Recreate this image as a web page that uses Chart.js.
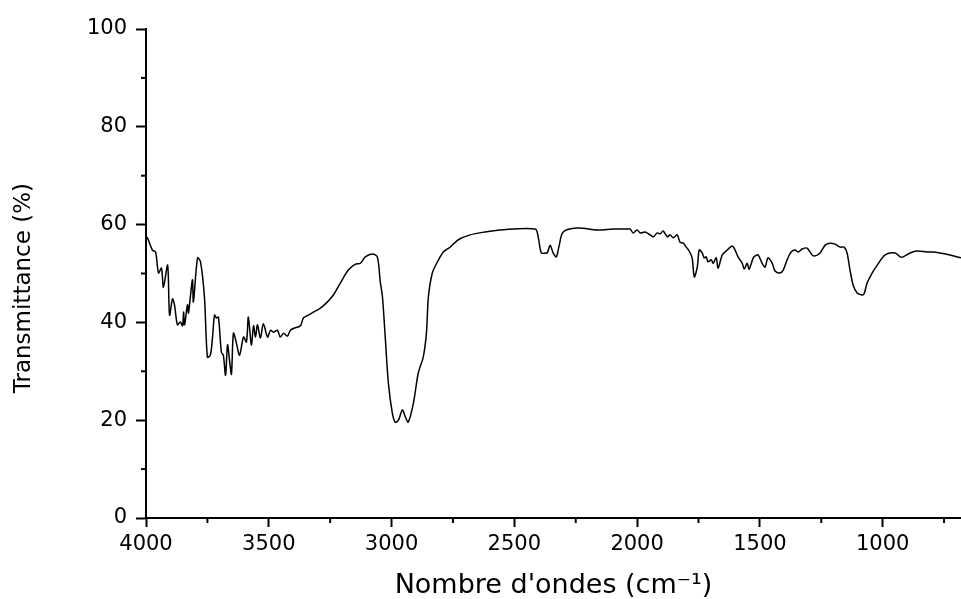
<!DOCTYPE html>
<html>
<head>
<meta charset="utf-8">
<script src="https://cdn.jsdelivr.net/npm/chart.js@4.4.1/dist/chart.umd.min.js"></script>
<style>
html,body{margin:0;padding:0;background:#fff;}
#wrap{width:961px;height:599px;}
</style>
</head>
<body>
<div id="wrap"><canvas id="c" width="961" height="599"></canvas></div>
<script>
// Wavenumbers (cm-1), descending
const wavenumbers = [4000, 3994, 3974, 3961, 3949, 3937, 3929, 3912, 3904, 3892, 3884, 3872, 3860, 3851, 3847, 3843, 3831, 3827, 3811, 3807, 3790, 3778, 3762, 3750, 3738, 3729, 3721, 3713, 3705, 3693, 3685, 3676, 3668, 3660, 3652, 3644, 3632, 3619, 3603, 3591, 3583, 3571, 3562, 3554, 3546, 3534, 3522, 3505, 3493, 3481, 3465, 3453, 3440, 3424, 3412, 3392, 3371, 3359, 3339, 3318, 3290, 3261, 3237, 3208, 3176, 3147, 3127, 3107, 3078, 3058, 3046, 3037, 3025, 3013, 2997, 2985, 2972, 2956, 2944, 2932, 2911, 2891, 2871, 2858, 2850, 2834, 2813, 2789, 2761, 2728, 2680, 2619, 2557, 2415, 2403, 2390, 2374, 2366, 2354, 2342, 2329, 2317, 2301, 2244, 2162, 2097, 2069, 2040, 2028, 2016, 2000, 1987, 1967, 1947, 1934, 1918, 1906, 1894, 1877, 1865, 1853, 1837, 1825, 1812, 1800, 1788, 1776, 1767, 1755, 1747, 1735, 1727, 1719, 1711, 1698, 1690, 1678, 1670, 1653, 1633, 1613, 1601, 1589, 1572, 1564, 1552, 1544, 1527, 1519, 1507, 1491, 1479, 1467, 1450, 1438, 1418, 1405, 1389, 1373, 1356, 1344, 1328, 1308, 1287, 1275, 1255, 1234, 1214, 1194, 1173, 1157, 1145, 1133, 1120, 1104, 1084, 1076, 1063, 1043, 1022, 990, 949, 929, 917, 888, 860, 819, 795, 767, 726, 681];
// Transmittance (%)
const transmittance = [57.5, 57.3, 54.8, 54.4, 50.1, 51.1, 47.2, 51.7, 41.5, 44.8, 43.6, 39.5, 40.1, 39.3, 42.1, 39.5, 43.6, 41.9, 48.7, 44.2, 53.2, 52.4, 45.2, 32.9, 33.3, 37.0, 41.5, 40.9, 41.1, 33.9, 33.3, 29.2, 35.4, 32.3, 29.4, 37.8, 35.8, 33.3, 37.0, 36.0, 41.1, 35.4, 39.3, 37.0, 39.5, 36.8, 39.7, 37.0, 38.4, 38.0, 38.4, 37.0, 37.8, 37.2, 38.4, 38.9, 39.3, 40.9, 41.5, 42.1, 42.9, 44.2, 45.6, 48.1, 50.7, 51.9, 52.1, 53.4, 54.0, 53.4, 48.3, 45.2, 36.4, 27.6, 21.5, 19.6, 20.0, 22.1, 20.7, 19.6, 23.5, 29.7, 32.9, 37.8, 45.2, 50.1, 52.4, 54.4, 55.4, 56.9, 57.9, 58.5, 58.9, 59.1, 57.5, 54.2, 54.2, 54.2, 55.8, 54.2, 53.4, 55.8, 58.5, 59.3, 58.9, 59.1, 59.1, 59.1, 59.1, 58.3, 58.9, 58.3, 58.5, 57.9, 57.5, 58.3, 58.1, 58.7, 57.5, 57.9, 57.3, 57.9, 56.4, 56.2, 55.4, 54.6, 53.2, 49.3, 51.3, 54.8, 54.2, 53.2, 53.4, 52.4, 52.8, 52.1, 53.2, 51.1, 53.8, 54.8, 55.6, 54.8, 53.4, 52.1, 50.9, 52.1, 50.9, 53.2, 53.6, 53.8, 52.1, 51.3, 53.2, 52.1, 50.5, 50.1, 50.7, 52.8, 54.4, 54.8, 54.4, 55.0, 55.2, 53.8, 53.6, 54.2, 55.8, 56.2, 56.0, 55.4, 55.4, 54.2, 50.7, 47.6, 46.0, 45.6, 45.8, 48.1, 50.1, 51.7, 53.8, 54.2, 53.4, 53.4, 54.2, 54.6, 54.4, 54.4, 54.2, 53.8, 53.2];

const xMajorTicks = [4000, 3500, 3000, 2500, 2000, 1500, 1000];
const xMinorTicks = [3750, 3250, 2750, 2250, 1750, 1250, 750];
const yMajorTicks = [0, 20, 40, 60, 80, 100];
const yMinorTicks = [10, 30, 50, 70, 90];
const xRange = [681, 4000];
const yRange = [0, 100];
const xTitle = "Nombre d'ondes (cm\u207B\u00B9)";
const yTitle = "Transmittance (%)";

const n = Math.min(wavenumbers.length, transmittance.length);
const points = [];
for (let i = 0; i < n; i++) points.push({x: wavenumbers[i], y: transmittance[i]});

const minorTickPlugin = {
  id: 'minorTicks',
  afterDraw(chart) {
    const ctx = chart.ctx, xs = chart.scales.x, ys = chart.scales.y;
    ctx.save();
    ctx.strokeStyle = '#000';
    ctx.lineWidth = 2;
    xMinorTicks.forEach(v => {
      const p = xs.getPixelForValue(v);
      if (p < xs.left - 1 || p > xs.right + 1) return;
      ctx.beginPath(); ctx.moveTo(p, ys.bottom); ctx.lineTo(p, ys.bottom + 5); ctx.stroke();
    });
    yMinorTicks.forEach(v => {
      const p = ys.getPixelForValue(v);
      ctx.beginPath(); ctx.moveTo(xs.left, p); ctx.lineTo(xs.left - 5, p); ctx.stroke();
    });
    ctx.restore();
  }
};

new Chart(document.getElementById('c'), {
  type: 'line',
  data: {
    datasets: [{
      data: points,
      borderColor: '#000',
      borderWidth: 1.5,
      pointRadius: 0,
      fill: false,
      tension: 0.3
    }]
  },
  options: {
    responsive: false,
    animation: false,
    devicePixelRatio: 1,
    layout: {padding: {top: 29, right: 0, bottom: 0, left: 0}},
    plugins: {legend: {display: false}, tooltip: {enabled: false}},
    scales: {
      x: {
        type: 'linear',
        reverse: true,
        min: xRange[0],
        max: xRange[1],
        afterBuildTicks: s => { s.ticks = xMajorTicks.map(v => ({value: v})); },
        afterFit: s => { s.height = 81; },
        border: {display: true, color: '#000', width: 2},
        grid: {drawOnChartArea: false, drawTicks: true, tickLength: 9, tickColor: '#000', tickWidth: 2},
        ticks: {color: '#000', autoSkip: false, maxRotation: 0, padding: 5,
                font: {family: 'DejaVu Sans', size: 21},
                callback: v => String(v)},
        title: {display: true, text: xTitle, color: '#000',
                font: {family: 'DejaVu Sans', size: 27, lineHeight: 1},
                padding: {top: 0, bottom: 0}}
      },
      y: {
        type: 'linear',
        min: yRange[0],
        max: yRange[1],
        afterBuildTicks: s => { s.ticks = yMajorTicks.map(v => ({value: v})); },
        afterFit: s => { s.width = 146; },
        border: {display: true, color: '#000', width: 2},
        grid: {drawOnChartArea: false, drawTicks: true, tickLength: 10, tickColor: '#000', tickWidth: 2},
        ticks: {color: '#000', padding: 9,
                font: {family: 'DejaVu Sans', size: 21},
                callback: v => String(v)},
        title: {display: true, text: yTitle + '    ', color: '#000',
                font: {family: 'DejaVu Sans', size: 23, lineHeight: 1},
                padding: {top: 13, bottom: 0}}
      }
    }
  },
  plugins: [minorTickPlugin]
});
</script>
</body>
</html>
